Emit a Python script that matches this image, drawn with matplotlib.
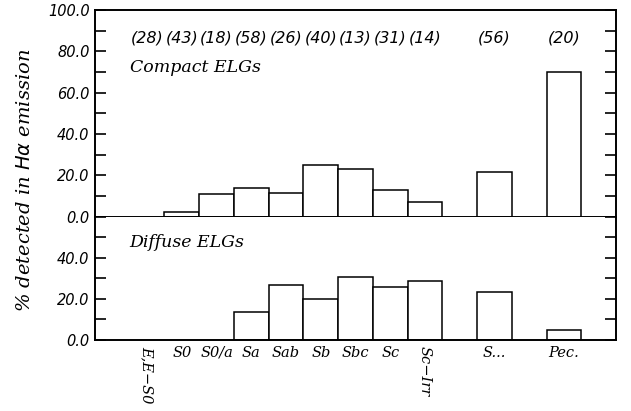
"""
Fraction of galaxies detected in H-alpha emission per morphological type,
for compact and diffuse ELGs.
"""

import matplotlib
matplotlib.use("Agg")
import matplotlib.pyplot as plt
from matplotlib.ticker import MultipleLocator, FuncFormatter

# bin positions along the x axis (bin index, width 1)
types = ["E,E\u2212S0", "S0", "S0/a", "Sa", "Sab", "Sb", "Sbc", "Sc",
         "Sc\u2212Irr", "S...", "Pec."]
positions = [1, 2, 3, 4, 5, 6, 7, 8, 9, 11, 13]
counts = ["(28)", "(43)", "(18)", "(58)", "(26)", "(40)", "(13)", "(31)",
          "(14)", "(56)", "(20)"]
compact = [0.0, 2.3, 11.1, 13.8, 11.5, 25.0, 23.1, 12.9, 7.1, 21.4, 70.0]
diffuse = [0.0, 0.0, 0.0, 13.8, 26.9, 20.0, 30.8, 25.8, 28.6, 23.2, 5.0]
rotated = ["E,E\u2212S0", "Sc\u2212Irr"]

serif = dict(family="DejaVu Serif", style="italic")
sans = dict(family="DejaVu Sans", style="italic")


def draw_bars(ax, values):
    xs = [p for p, v in zip(positions, values) if v > 0]
    hs = [v for v in values if v > 0]
    ax.bar(xs, hs, width=1.0, align="edge", facecolor="white",
           edgecolor="black", linewidth=1.1)


def style_axis(ax, ymax, top_label=True):
    ax.set_xlim(0, 15)
    ax.set_ylim(0, ymax)
    ax.yaxis.set_major_locator(MultipleLocator(20))
    ax.yaxis.set_minor_locator(MultipleLocator(10))
    ax.yaxis.set_major_formatter(FuncFormatter(
        lambda v, pos: "" if (v >= ymax - 1e-6 and not top_label)
        else "%.1f" % v))
    ax.tick_params(axis="y", which="both", direction="in", length=8,
                   width=1.2, left=True, right=True, labelsize=10.5, pad=4)
    for lab in ax.get_yticklabels():
        lab.set_fontfamily("DejaVu Sans")
        lab.set_fontstyle("italic")
    for sp in ax.spines.values():
        sp.set_linewidth(1.4)


fig = plt.figure(figsize=(6.31, 4.11), dpi=100)
ax1 = fig.add_axes([0.1506, 0.4727, 0.8257, 0.5029])
ax2 = fig.add_axes([0.1506, 0.1727, 0.8257, 0.3000])

draw_bars(ax1, compact)
style_axis(ax1, 100)
ax1.set_xticks([])
for p, c in zip(positions, counts):
    ax1.text(p + 0.5, 86.5, c, ha="center", va="center", fontsize=11.5,
             **sans)
ax1.text(1.0, 72, "Compact ELGs", ha="left", va="center", fontsize=12.5,
         **serif)

draw_bars(ax2, diffuse)
style_axis(ax2, 60, top_label=False)
ax2.spines["top"].set_visible(False)
ax2.text(1.0, 47.5, "Diffuse ELGs", ha="left", va="center", fontsize=12.5,
         **serif)
ax2.set_xticks([p + 0.5 for p in positions])
ax2.set_xticklabels(types)
ax2.tick_params(axis="x", length=0, pad=4)
for lab in ax2.get_xticklabels():
    lab.set_fontfamily("DejaVu Serif")
    lab.set_fontstyle("italic")
    lab.set_fontsize(10.5)
    if lab.get_text() in rotated:
        lab.set_rotation(-90)
        lab.set_va("top")
        lab.set_ha("center")

fig.text(0.04, 0.56, r"% detected in $H\alpha$ emission", rotation=90,
         ha="center", va="center", fontsize=14, **serif)

fig.savefig("out.png", dpi=100)
